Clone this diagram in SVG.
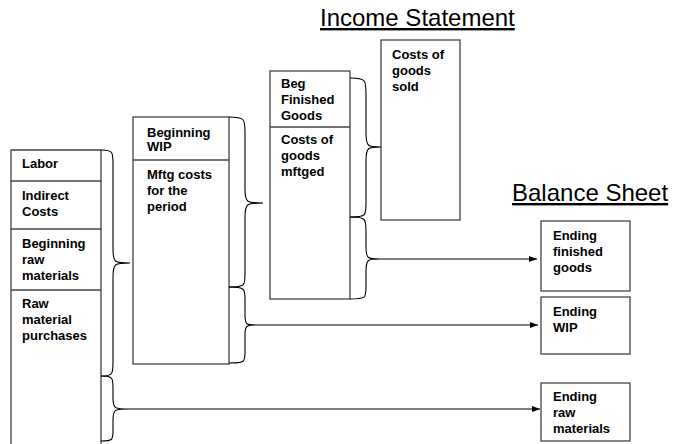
<svg xmlns="http://www.w3.org/2000/svg" width="673" height="444" viewBox="0 0 673 444">
<defs>
<marker id="arr" markerWidth="8" markerHeight="8" refX="8" refY="4" orient="auto" markerUnits="userSpaceOnUse">
<path d="M0,1 L8,4 L0,7 Z" fill="#000"/>
</marker>
<style>
.box{fill:#fff;stroke:#444;stroke-width:1.3}
.div{stroke:#444;stroke-width:1.3}
.t{font-family:"Liberation Sans",Arial,sans-serif;font-weight:bold;font-size:13px;fill:#000}
.h{font-family:"Liberation Sans",Arial,sans-serif;font-size:24px;fill:#000;text-decoration:underline}
.br{fill:none;stroke:#000;stroke-width:1.1}
.ln{fill:none;stroke:#000;stroke-width:1.1}
</style>
</defs>
<rect width="673" height="444" fill="#fff"/>
<g id="title-income"><text class="h" x="320" y="26">Income Statement</text></g>
<g id="title-balance"><text class="h" x="512" y="201">Balance Sheet</text></g>

<g id="col1">
<path class="box" d="M11,452 L11,150 L101,150 L101,452"/>
<line class="div" x1="11" y1="181" x2="101" y2="181"/>
<line class="div" x1="11" y1="229" x2="101" y2="229"/>
<line class="div" x1="11" y1="290" x2="101" y2="290"/>
<text class="t" x="22" y="168">Labor</text>
<text class="t" x="22" y="200">Indirect</text>
<text class="t" x="22" y="216">Costs</text>
<text class="t" x="22" y="248">Beginning</text>
<text class="t" x="22" y="264">raw</text>
<text class="t" x="22" y="280">materials</text>
<text class="t" x="22" y="308">Raw</text>
<text class="t" x="22" y="324">material</text>
<text class="t" x="22" y="340">purchases</text>
</g>

<g id="col2">
<rect class="box" x="133" y="117" width="96" height="247"/>
<line class="div" x1="133" y1="160" x2="229" y2="160"/>
<text class="t" x="147" y="137">Beginning</text>
<text class="t" x="147" y="151">WIP</text>
<text class="t" x="147" y="179">Mftg costs</text>
<text class="t" x="147" y="195">for the</text>
<text class="t" x="147" y="211">period</text>
</g>

<g id="col3">
<rect class="box" x="270" y="71" width="80" height="228"/>
<line class="div" x1="270" y1="127" x2="350" y2="127"/>
<text class="t" x="281" y="88">Beg</text>
<text class="t" x="281" y="104">Finished</text>
<text class="t" x="281" y="120">Goods</text>
<text class="t" x="281" y="144">Costs of</text>
<text class="t" x="281" y="160">goods</text>
<text class="t" x="281" y="176">mftged</text>
</g>

<g id="cogs">
<rect class="box" x="381" y="40" width="79" height="180"/>
<text class="t" x="392" y="59">Costs of</text>
<text class="t" x="392" y="75">goods</text>
<text class="t" x="392" y="91">sold</text>
</g>

<g id="end-fg">
<rect class="box" x="541" y="221" width="89" height="70"/>
<text class="t" x="553" y="240">Ending</text>
<text class="t" x="553" y="256">finished</text>
<text class="t" x="553" y="272">goods</text>
</g>
<g id="end-wip">
<rect class="box" x="541" y="297" width="89" height="57"/>
<text class="t" x="553" y="316">Ending</text>
<text class="t" x="553" y="332">WIP</text>
</g>
<g id="end-rm">
<rect class="box" x="541" y="383" width="89" height="58"/>
<text class="t" x="553" y="401">Ending</text>
<text class="t" x="553" y="417">raw</text>
<text class="t" x="553" y="433">materials</text>
</g>

<g id="connectors">
<path class="br" d="M101,150 C113,150 113,152 113,164 L113,249 C113,263 115,263 130,263 C115,263 113,263 113,277 L113,362 C113,374 113,376 101,376"/>
<path class="br" d="M101,376 C113,376 113,378 113,388 L113,398 C113,409 115,409 130,409 C115,409 113,409 113,420 L113,430 C113,440 113,441 101,441"/>
<line class="ln" x1="130" y1="409" x2="540" y2="409" marker-end="url(#arr)"/>
<path class="br" d="M229,117 C245,117 245,119 245,133 L245,189 C245,203 247,203 263,203 C247,203 245,203 245,217 L245,273 C245,286 245,287 229,287"/>
<path class="br" d="M229,287 C245,287 245,289 245,299 L245,315 C245,325 247,325 256,325 C247,325 245,325 245,335 L245,352 C245,362 245,363 229,363"/>
<line class="ln" x1="256" y1="325" x2="538" y2="325" marker-end="url(#arr)"/>
<path class="br" d="M350,78 C366,78 366,80 366,94 L366,133 C366,147 368,147 381,147 C368,147 366,147 366,161 L366,203 C366,216 366,217 350,217"/>
<path class="br" d="M350,217 C366,217 366,219 366,231 L366,247 C366,259 368,259 380,259 C368,259 366,259 366,271 L366,287 C366,298 366,299 350,299"/>
<line class="ln" x1="380" y1="259" x2="537" y2="259" marker-end="url(#arr)"/>
</g>
</svg>
